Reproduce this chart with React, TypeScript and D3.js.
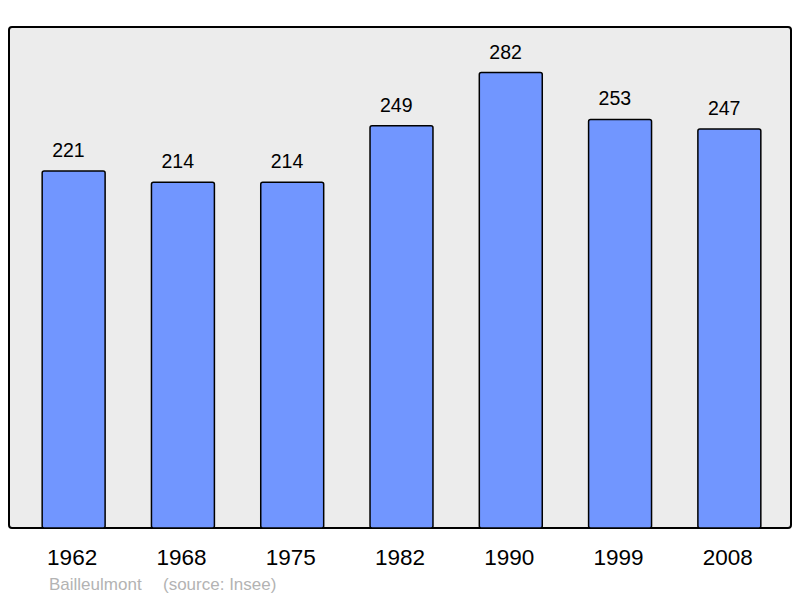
import * as d3 from "d3";

const years = ["1962", "1968", "1975", "1982", "1990", "1999", "2008"];
const population = [221, 214, 214, 249, 282, 253, 247];
const commune = "Bailleulmont";
const source = "(source: Insee)";

const width = 800;
const height = 598;
const panel = { left: 9, top: 27, right: 791, bottom: 528 };

export default function App() {
  const x = d3
    .scaleBand<string>()
    .domain(years)
    .range([19, 784])
    .paddingInner(0.424)
    .paddingOuter(0.212);

  const y = d3
    .scaleLinear()
    .domain([0, d3.max(population)! * 1.1])
    .range([panel.bottom, panel.top]);

  const font = "'Liberation Sans', Arial, sans-serif";

  return (
    <svg
      width={width}
      height={height}
      style={{ position: "absolute", left: 0, top: 0, background: "#fff" }}
      fontFamily={font}
    >
      <rect
        x={panel.left}
        y={panel.top}
        width={panel.right - panel.left}
        height={panel.bottom - panel.top}
        rx={3}
        fill="#ececec"
        stroke="#000"
        strokeWidth={2}
      />
      {years.map((yr, i) => (
        <g key={yr}>
          <rect
            x={x(yr)}
            y={y(population[i])}
            width={x.bandwidth()}
            height={panel.bottom - y(population[i])}
            rx={2}
            fill="#7196ff"
            stroke="#000"
            strokeWidth={1.5}
          />
          {/* value labels sit a little left of centre, as in the original */}
          <text
            x={x(yr)! + 10}
            y={y(population[i]) - 14}
            fontSize={19.5}
            fill="#000"
          >
            {population[i]}
          </text>
          <text
            x={x(yr)! + x.bandwidth() / 2 - 1.5}
            y={565}
            textAnchor="middle"
            fontSize={22.5}
            fill="#000"
          >
            {yr}
          </text>
        </g>
      ))}
      <text x={49} y={590} fontSize={17} fill="#b3b3b3">
        {commune}
      </text>
      <text x={163} y={590} fontSize={17} fill="#b3b3b3">
        {source}
      </text>
    </svg>
  );
}
